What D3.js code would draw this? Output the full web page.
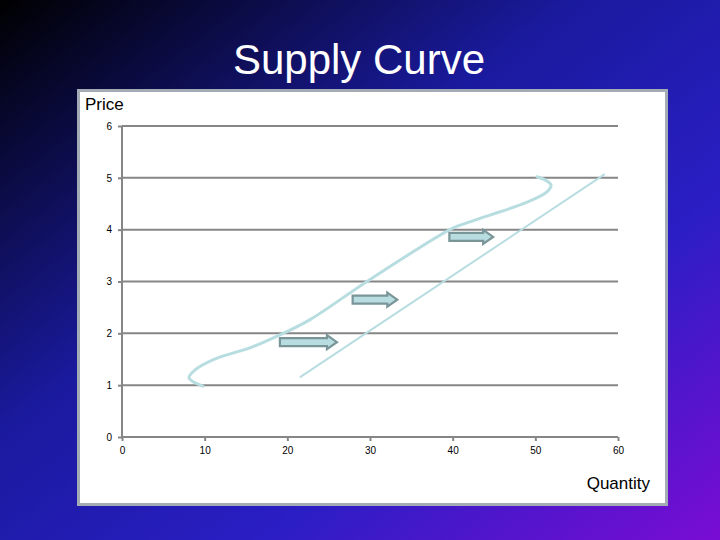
<!DOCTYPE html>
<html><head><meta charset="utf-8">
<script src="https://cdn.jsdelivr.net/npm/d3@7"></script>
<style>html,body{margin:0;padding:0;}svg{display:block;}</style>
</head><body>
<script>
// Data
const xTicks = [0, 10, 20, 30, 40, 50, 60];
const yTicks = [0, 1, 2, 3, 4, 5, 6];
const curveX = [9.8, 8.1, 8.8, 11.0, 15.8, 19.1, 22.7, 30.0, 40.0, 41.7, 44.5, 49.0, 51.4, 51.9, 51.4, 50.2];
const curveY = [0.98, 1.14, 1.29, 1.49, 1.74, 1.97, 2.26, 3.04, 4.03, 4.13, 4.28, 4.53, 4.73, 4.86, 4.94, 5.02];
const lineX = [21.5, 58.4];
const lineY = [1.15, 5.07];
const arrowStart = [19.1, 27.9, 39.6];
const arrowEnd = [26.0, 33.3, 44.9];
const arrowY = [1.83, 2.65, 3.86];

const W = 720, H = 540;
const svg = d3.select("body").append("svg").attr("width", W).attr("height", H);
const defs = svg.append("defs");
const g = defs.append("linearGradient").attr("id", "bg").attr("x1", "0").attr("y1", "0").attr("x2", "1").attr("y2", "1");
g.append("stop").attr("offset", "0%").attr("stop-color", "#000000");
g.append("stop").attr("offset", "40%").attr("stop-color", "#1a1a9e");
g.append("stop").attr("offset", "68%").attr("stop-color", "#2a1ec4");
g.append("stop").attr("offset", "100%").attr("stop-color", "#7a0cd4");
svg.append("rect").attr("width", W).attr("height", H).attr("fill", "url(#bg)");

const font = "Arial, 'Liberation Sans', sans-serif";
svg.append("text").attr("x", 359).attr("y", 74).attr("text-anchor", "middle")
  .attr("fill", "#ffffff").attr("font-family", font)
  .attr("font-size", 42).text("Supply Curve");

// chart box
svg.append("rect").attr("x", 78.5).attr("y", 90.5).attr("width", 588).attr("height", 414)
  .attr("fill", "#ffffff").attr("stroke", "#a3abb5").attr("stroke-width", 3);

const x = d3.scaleLinear().domain([0, 60]).range([122, 618]);
const y = d3.scaleLinear().domain([0, 6]).range([437, 126]);

// gridlines
svg.append("g").selectAll("line").data(yTicks.filter(d => d > 0)).join("line")
  .attr("x1", x(0)).attr("x2", x(60)).attr("y1", d => y(d)).attr("y2", d => y(d))
  .attr("stroke", "#868686").attr("stroke-width", 2);

const yAxis = svg.append("g").attr("transform", `translate(${x(0)},0)`)
  .call(d3.axisLeft(y).tickValues(yTicks).tickSize(4).tickPadding(6).tickFormat(d3.format("d")));
const xAxis = svg.append("g").attr("transform", `translate(0,${y(0)})`)
  .call(d3.axisBottom(x).tickValues(xTicks).tickSize(4).tickPadding(6).tickFormat(d3.format("d")));
[yAxis, xAxis].forEach(a => {
  a.select(".domain").attr("stroke", "#868686").attr("stroke-width", 2);
  a.selectAll(".tick line").attr("stroke", "#868686").attr("stroke-width", 2);
  a.selectAll("text").attr("font-family", font).attr("font-size", 10).attr("fill", "#000");
});
xAxis.select(".domain").attr("d", `M${x(0)},0H${x(60)}`);
yAxis.select(".domain").attr("d", `M0,${y(0)}V${y(6)}`);

// supply curve
const pts = curveX.map((d, i) => [x(d), y(curveY[i])]);
svg.append("path").attr("d", d3.line().curve(d3.curveCatmullRom.alpha(0.5))(pts))
  .attr("fill", "none").attr("stroke", "#b8dde0").attr("stroke-width", 3).attr("stroke-linecap", "round");

svg.append("path").attr("d", d3.line()(lineX.map((d, i) => [x(d), y(lineY[i])])))
  .attr("fill", "none").attr("stroke", "#b8dde0").attr("stroke-width", 2);

// arrows
const arrow = (x0, x1, yc) => {
  const bh = 4, hh = 7, hl = 10;
  return `M${x0},${yc - bh}H${x1 - hl}V${yc - hh}L${x1},${yc}L${x1 - hl},${yc + hh}V${yc + bh}H${x0}Z`;
};
svg.append("g").selectAll("path").data(arrowStart).join("path")
  .attr("d", (d, i) => arrow(x(d), x(arrowEnd[i]), y(arrowY[i])))
  .attr("fill", "#b8dde0").attr("stroke", "#7a9598").attr("stroke-width", 2.2).attr("stroke-linejoin", "miter");

svg.append("text").attr("x", 85).attr("y", 110).attr("font-family", font).attr("font-size", 17)
  .attr("fill", "#000").text("Price");
svg.append("text").attr("x", 650).attr("y", 489).attr("text-anchor", "end").attr("font-family", font)
  .attr("font-size", 17).attr("fill", "#000").text("Quantity");
</script>
</body></html>
